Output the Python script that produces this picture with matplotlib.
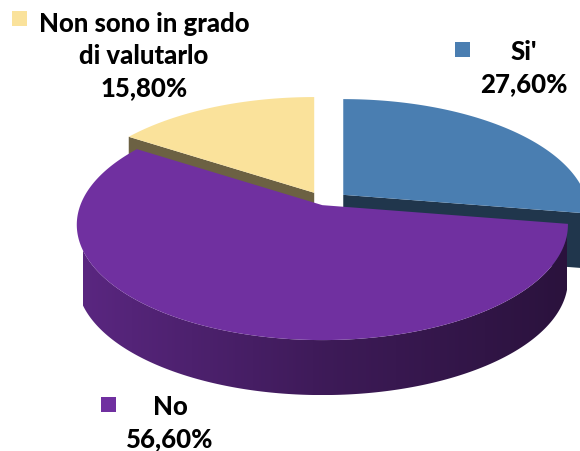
import numpy as np
import matplotlib.pyplot as plt
from matplotlib.patches import Polygon, Rectangle
from matplotlib.colors import LinearSegmentedColormap, to_rgb

plt.rcParams['font.family'] = ['Lato', 'DejaVu Sans']

categories = ["Si'", "No", "Non sono in grado\ndi valutarlo"]
shares = [27.6, 56.6, 15.8]
top_colors = ['#4a7eb1', '#7030a0', '#fae29b']
explode = [0.10, 0.03, 0.095]

# label anchors (pixel coords, y down): square corner, text center
square_pos = [(455, 43), (101, 398), (12, 12)]
text_pos = [(524, 68), (170, 423), (144, 56)]

CX, CY = 325, 203          # pie center in pixels
RX, RY, K = 242, 112, 0.17  # radii and perspective factor
DEPTH = 55


def proj(t, r=1.0):
    s = r * np.sin(t)
    return RX * r * np.cos(t) / (1 + K * s), -RY * s / (1 + K * s)


def shade(color, f):
    return tuple(c * f for c in to_rgb(color))


fig = plt.figure(figsize=(5.8, 4.52), dpi=100)
ax = fig.add_axes([0, 0, 1, 1])
ax.set_xlim(0, 580)
ax.set_ylim(452, 0)
ax.axis('off')

# slice angles, clockwise from 12 o'clock
hi = 90 - np.concatenate([[0], np.cumsum(shares)[:-1]]) * 3.6
lo = hi - np.array(shares) * 3.6
mids = np.radians((hi + lo) / 2)
order = np.argsort(-np.sin(mids))  # back slices first

z = 1
for i in order:
    a_lo, a_hi = np.radians(lo[i]), np.radians(hi[i])
    ox, oy = proj(mids[i], explode[i])
    x0, y0 = CX + ox, CY + oy
    t = np.linspace(a_lo, a_hi, 300)
    px, py = proj(t)
    px, py = px + x0, py + y0

    # cut faces turned to the viewer
    for a, normal in ((a_lo, a_lo - np.pi / 2), (a_hi, a_hi + np.pi / 2)):
        if np.sin(normal) < -0.01:
            ex, ey = proj(a)
            face = Polygon([(x0, y0), (x0 + ex, y0 + ey), (x0 + ex, y0 + ey + DEPTH),
                            (x0, y0 + DEPTH)], closed=True,
                           facecolor=shade(top_colors[i], 0.43), edgecolor='none', zorder=z)
            ax.add_patch(face)
            z += 1

    # outer rim, with a left-to-right shading
    front = np.sin(t) < 0
    if front.any():
        fx, fy = px[front], py[front]
        verts = np.column_stack([np.concatenate([fx, fx[::-1]]),
                                 np.concatenate([fy, fy[::-1] + DEPTH])])
        rim = Polygon(verts, closed=True, facecolor='none', edgecolor='none', zorder=z)
        ax.add_patch(rim)
        cmap = LinearSegmentedColormap.from_list(
            'rim', [shade(top_colors[i], 0.8), shade(top_colors[i], 0.55), shade(top_colors[i], 0.38)])
        grad = ax.imshow(np.linspace(0, 1, 256)[None, :], cmap=cmap, aspect='auto',
                         extent=(CX - RX, CX + RX, verts[:, 1].max(), verts[:, 1].min()),
                         zorder=z, interpolation='bilinear')
        grad.set_clip_path(rim)
        z += 1

    top = Polygon(np.column_stack([np.r_[x0, px], np.r_[y0, py]]), closed=True,
                  facecolor=top_colors[i], edgecolor='none', zorder=z)
    ax.add_patch(top)
    z += 1

ax.set_xlim(0, 580)
ax.set_ylim(452, 0)

for i, name in enumerate(categories):
    sx, sy = square_pos[i]
    ax.add_patch(Rectangle((sx, sy), 15, 15, facecolor=top_colors[i], edgecolor='none', zorder=z))
    pct = f"{shares[i]:.2f}%".replace('.', ',')
    tx, ty = text_pos[i]
    ax.text(tx, ty, f"{name}\n{pct}", ha='center', va='center', fontsize=18.5,
            fontweight='black', color='#000000', linespacing=1.38, zorder=z)

fig.savefig('out.png', dpi=100)
